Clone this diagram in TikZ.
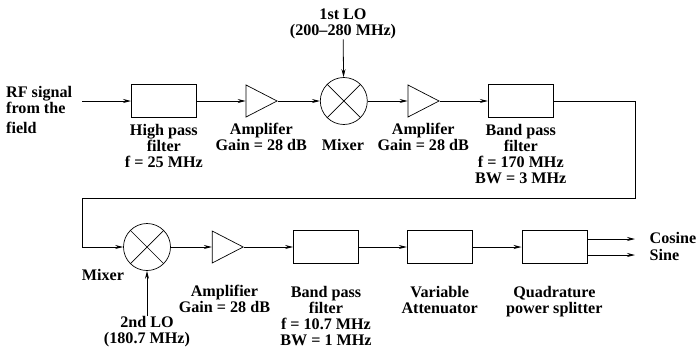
\documentclass[tikz,border=0pt]{standalone}
\usepackage{fontspec}
\setmainfont{Liberation Serif}
\usetikzlibrary{arrows.meta,shapes.geometric,positioning}

\begin{document}
\begin{tikzpicture}[
    x=1bp,y=-1bp,
    block/.style={draw,minimum width=65bp,minimum height=33bp,inner sep=0pt,line width=0.7pt},
    amp/.style={draw,isosceles triangle,isosceles triangle stretches,shape border rotate=0,
                minimum width=32bp,minimum height=31bp,inner sep=0pt,line width=0.7pt},
    mixer/.style={draw,circle,minimum size=47bp,inner sep=0pt,line width=0.7pt,
                  path picture={\draw[line width=0.7pt]
                    (path picture bounding box.north west)--(path picture bounding box.south east)
                    (path picture bounding box.north east)--(path picture bounding box.south west);}},
    lbl/.style={font=\fontsize{16.2}{16}\selectfont\bfseries,align=center,inner sep=0pt},
    arr/.style={-{Stealth[length=8bp,width=4bp]},line width=0.8pt},
  ]
    \useasboundingbox (0,0) rectangle (697,352);
    % top row
    \coordinate (in) at (82,101);
    \node[block,right=49bp of in](hpf){};
    \node[amp,right=49bp of hpf](amp1){};
    \node[mixer,right=42bp of amp1](mix1){};
    \node[amp,right=40bp of mix1](amp2){};
    \node[block,right=48bp of amp2](bpf1){};
    % bottom row
    \node[mixer](mix2) at (147,247){};
    \node[amp,right=41bp of mix2](amp3){};
    \node[block,right=49bp of amp3](bpf2){};
    \node[block,right=48bp of bpf2](att){};
    \node[block,right=49bp of att](qps){};
    % labels
    \node[lbl,anchor=north west,align=left](rf) at (6,86){RF signal\\from the\\[4bp]field};
    \node[lbl,below=6bp of hpf](hpft){High pass\\filter\\f = 25 MHz};
    \node[lbl,below=11bp of amp1,xshift=5.5bp](amp1t){Amplifer\\Gain = 28 dB};
    \node[lbl](mix1t) at (343,145){Mixer};
    \node[lbl,below=11bp of amp2,xshift=5.5bp](amp2t){Amplifer\\Gain = 28 dB};
    \node[lbl,below=6bp of bpf1](bpf1t){Band pass\\filter\\f = 170 MHz\\BW = 3 MHz};
    \node[lbl,anchor=north](lo1) at (343,9){1st LO\\(200--280 MHz)};
    \node[lbl](mix2t) at (103,275){Mixer};
    \node[lbl,below=27bp of amp3,xshift=2.5bp](amp3t){Amplifier\\Gain = 28 dB};
    \node[lbl,below=22bp of bpf2](bpf2t){Band pass\\filter\\f = 10.7 MHz\\BW = 1 MHz};
    \node[lbl,below=22bp of att](attt){Variable\\Attenuator};
    \node[lbl,below=22bp of qps](qpst){Quadrature\\power splitter};
    \node[lbl,anchor=north](lo2) at (147,316){2nd LO\\(180.7 MHz)};
    \node[lbl,anchor=west](cos) at (649.5,238){Cosine};
    \node[lbl,anchor=west](sin) at (649.5,255){Sine};
    \coordinate (cosend) at (635,239);
    \coordinate (sinend) at (635,255);
    % connectors
    \draw[arr](in)--(hpf); \draw[arr](hpf)--(amp1); \draw[arr](amp1)--(mix1);
    \draw[arr](mix1)--(amp2); \draw[arr](amp2)--(bpf1);
    \draw[arr](mix2)--(amp3); \draw[arr](amp3)--(bpf2);
    \draw[arr](bpf2)--(att); \draw[arr](att)--(qps);
    \draw[arr](lo1)--(mix1); \draw[arr](lo2)--(mix2);
    \draw[arr](bpf1.east)-|(635,198)-|(82,247)--(mix2);
    \draw[arr](qps.east|-cosend)--(cosend);
    \draw[arr](qps.east|-sinend)--(sinend);
  \end{tikzpicture}
\end{document}
